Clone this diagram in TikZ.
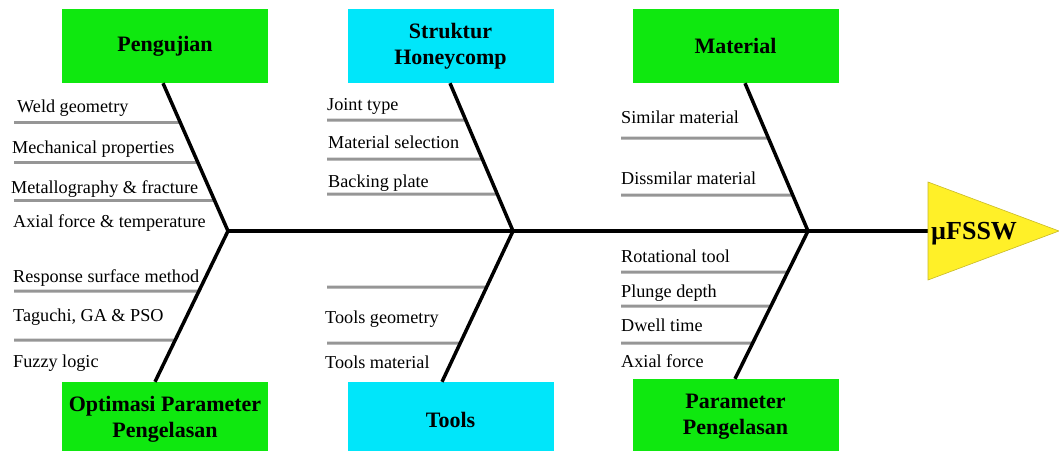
\documentclass[tikz,border=0pt]{standalone}
\usepackage{fontspec}
\setmainfont{Liberation Serif}
\usetikzlibrary{calc}
\definecolor{boxgreen}{RGB}{15,232,15}
\definecolor{boxcyan}{RGB}{0,230,250}
\definecolor{headyellow}{RGB}{255,240,40}
\definecolor{headedge}{RGB}{200,185,40}
\definecolor{subgray}{RGB}{150,150,150}
\newcommand\fishsub[3]{\draw[sub] (#1,#2) -- (intersection of #3 and 0,#2--1,#2);}
\begin{document}
\begin{tikzpicture}[x=1pt,y=-1pt,
  catbox/.style={rectangle, inner sep=0pt, minimum width=206pt, font=\fontsize{22}{26.5}\selectfont\bfseries, align=center},
  greenbox/.style={catbox, fill=boxgreen},
  cyanbox/.style={catbox, fill=boxcyan},
  bone/.style={line width=3.5pt, black},
  spine/.style={line width=4pt, black},
  sub/.style={line width=3pt, subgray},
  cause/.style={anchor=base west, inner sep=0pt, font=\fontsize{18.2}{20}\selectfont}]
\useasboundingbox (0,0) rectangle (1059,450);
\clip (0,0) rectangle (1059,450);

% category boxes
\node[greenbox, minimum height=74pt] (peng) at (165,46) {Pengujian};
\node[cyanbox, minimum height=74pt] (stru) at (450.5,46) {Struktur\\Honeycomp};
\node[greenbox, minimum height=74pt] (mat) at (735.5,46) {Material};
\node[greenbox, minimum height=75pt] (opt) at (165,419.5) {Optimasi Parameter\\Pengelasan};
\node[cyanbox, minimum height=75pt] (tool) at (450.5,419.5) {Tools};
\node[greenbox, minimum height=75pt] (par) at (735.5,416.5) {Parameter\\Pengelasan};

% junctions and bone ends
\coordinate (j1) at (228,231);
\coordinate (j2) at (513,231);
\coordinate (j3) at (808,231);
\coordinate (t1) at ($(peng.south)+(-2,0)$);
\coordinate (t2) at ($(stru.south)+(-0.5,0)$);
\coordinate (t3) at ($(mat.south)+(9.5,0)$);
\coordinate (b1) at ($(opt.north)+(-10,0)$);
\coordinate (b2) at ($(tool.north)+(-8.5,0)$);
\coordinate (b3) at ($(par.north)+(-0.5,0)$);
\coordinate (hw) at (930,231);

% sub-cause lines
\fishsub{14}{122}{t1--j1}
\fishsub{14}{162}{t1--j1}
\fishsub{14}{200}{t1--j1}
\fishsub{14}{291}{j1--b1}
\fishsub{14}{340}{j1--b1}
\fishsub{327}{120}{t2--j2}
\fishsub{327}{159}{t2--j2}
\fishsub{327}{194}{t2--j2}
\fishsub{327}{287}{j2--b2}
\fishsub{327}{343}{j2--b2}
\fishsub{621}{138}{t3--j3}
\fishsub{621}{195}{t3--j3}
\fishsub{621}{272}{j3--b3}
\fishsub{621}{306}{j3--b3}
\fishsub{621}{343}{j3--b3}

% spine and bones
\draw[spine] (j1) -- (hw);
\draw[bone] (t1) -- (j1) -- (b1);
\draw[bone] (t2) -- (j2) -- (b2);
\draw[bone] (t3) -- (j3) -- (b3);

% head
\draw[fill=headyellow, draw=headedge, line width=0.6pt] (928,182) -- (1059,231) -- (928,280) -- cycle;
\node[anchor=base west, inner sep=0pt, font=\fontsize{26}{29}\selectfont\bfseries] (head) at (931,239) {µFSSW};

% cause texts
\node[cause] (c1) at (17,112) {Weld geometry};
\node[cause] (c2) at (12,153) {Mechanical properties};
\node[cause] (c3) at (11,193) {Metallography \& fracture};
\node[cause] (c4) at (13,227) {Axial force \& temperature};
\node[cause] (c5) at (13,282) {Response surface method};
\node[cause] (c6) at (13,321) {Taguchi, GA \& PSO};
\node[cause] (c7) at (13,367) {Fuzzy logic};
\node[cause] (c8) at (327,110) {Joint type};
\node[cause] (c9) at (328,148) {Material selection};
\node[cause] (c10) at (328,187) {Backing plate};
\node[cause] (c11) at (325,323) {Tools geometry};
\node[cause] (c12) at (325,368) {Tools material};
\node[cause] (c13) at (621,123) {Similar material};
\node[cause] (c14) at (621,184) {Dissmilar material};
\node[cause] (c15) at (621,262) {Rotational tool};
\node[cause] (c16) at (621,297) {Plunge depth};
\node[cause] (c17) at (621,331) {Dwell time};
\node[cause] (c18) at (621,367) {Axial force};
\end{tikzpicture}
\end{document}
